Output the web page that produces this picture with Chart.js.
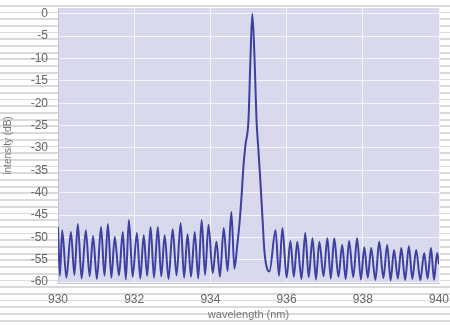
<!DOCTYPE html>
<html>
<head>
<meta charset="utf-8">
<script src="https://cdn.jsdelivr.net/npm/chart.js@4/dist/chart.umd.min.js"></script>
<style>
  html, body { margin: 0; padding: 0; }
  body {
    width: 450px; height: 325px; overflow: hidden;
    background: repeating-linear-gradient(to bottom, #ffffff 0px, #ffffff 4.9px, #dadada 4.9px, #dadada 6.7px);
  }
  canvas { display: block; }
</style>
</head>
<body>
<canvas id="c" width="450" height="325"></canvas>
<script>
// Spectrum: wavelength (nm) and intensity (dB) (peaks and troughs)
const wavelengths = [
  930.00, 930.05, 930.11, 930.22, 930.34, 930.43, 930.52, 930.62, 930.73, 930.83,
  930.92, 931.02, 931.13, 931.22, 931.31, 931.40, 931.49, 931.60, 931.70, 931.78,
  931.86, 931.96, 932.07, 932.16, 932.25, 932.34, 932.43, 932.52, 932.62, 932.71,
  932.80, 932.90, 933.01, 933.11, 933.22, 933.31, 933.40, 933.49, 933.59, 933.68,
  933.77, 933.86, 933.95, 934.06, 934.16, 934.25, 934.35, 934.45, 934.55, 934.63,
  934.71, 934.76, 934.82, 934.87, 934.92, 935.00, 935.05, 935.10, 935.16, 935.21,
  935.26, 935.31, 935.37, 935.42, 935.55, 935.71, 935.80, 935.89, 936.00, 936.10,
  936.19, 936.28, 936.39, 936.49, 936.58, 936.68, 936.77, 936.86, 936.97, 937.07,
  937.16, 937.25, 937.36, 937.46, 937.55, 937.64, 937.75, 937.85, 937.95, 938.04,
  938.13, 938.22, 938.33, 938.43, 938.54, 938.64, 938.73, 938.82, 938.92, 939.01,
  939.11, 939.21, 939.30, 939.40, 939.51, 939.61, 939.70, 939.79, 939.87, 939.95,
  940.00
];
const intensity = [
  -47.7, -58.6, -48.4, -59.0, -48.8, -58.4, -47.0, -59.2, -48.4, -58.7,
  -49.7, -59.3, -47.7, -58.6, -47.0, -59.0, -49.9, -58.5, -48.8, -59.4,
  -46.1, -58.8, -49.0, -59.2, -49.5, -58.6, -47.7, -59.0, -47.7, -58.7,
  -49.5, -59.3, -48.2, -58.5, -46.8, -59.0, -49.3, -58.8, -48.8, -59.2,
  -46.1, -58.4, -47.2, -58.0, -51.0, -58.8, -47.9, -57.5, -44.3, -57.0,
  -51.3, -47.2, -40.5, -33.8, -29.3, -23.7, -10.3, 0.0, -10.3, -23.7,
  -30.4, -37.2, -46.1, -53.3, -57.6, -48.4, -58.6, -47.9, -59.0, -50.8,
  -58.8, -51.0, -59.3, -49.0, -58.9, -50.2, -59.4, -51.0, -58.7, -50.2,
  -59.2, -50.2, -58.8, -51.7, -59.3, -50.8, -58.9, -50.2, -59.4, -52.2,
  -59.0, -52.4, -59.5, -51.0, -59.1, -51.7, -59.6, -52.8, -59.2, -52.4,
  -59.5, -52.0, -59.3, -52.8, -59.6, -53.5, -59.2, -52.4, -59.5, -53.5,
  -56.0
];
const xTicks = [930, 932, 934, 936, 938, 940];
const yTicks = [0, -5, -10, -15, -20, -25, -30, -35, -40, -45, -50, -55, -60];
const xTitle = 'wavelength (nm)';
const yTitle = 'intensity (dB)';

const points = wavelengths.map((w, i) => ({ x: w, y: intensity[i] }));

const plotBg = {
  id: 'plotBg',
  beforeDraw(chart) {
    const { ctx, chartArea: a } = chart;
    ctx.save();
    ctx.fillStyle = '#d9d9ee';
    ctx.fillRect(a.left, a.top, a.right - a.left, a.bottom - a.top);
    ctx.restore();
  }
};

new Chart(document.getElementById('c'), {
  type: 'line',
  data: {
    datasets: [{
      data: points,
      borderColor: '#3d40a0',
      borderWidth: 2,
      pointRadius: 0,
      cubicInterpolationMode: 'monotone',
      fill: false
    }]
  },
  options: {
    responsive: false,
    animation: false,
    layout: { padding: { top: 8, right: 0, left: 0, bottom: 0 } },
    plugins: { legend: { display: false }, tooltip: { enabled: false } },
    scales: {
      x: {
        type: 'linear',
        min: 930, max: 940,
        afterBuildTicks: s => { s.ticks = xTicks.map(v => ({ value: v })); },
        afterFit: s => { s.height = 42; s.paddingRight = 11; s.paddingLeft = 0; },
        grid: { color: '#f4f4fb', lineWidth: 1, drawTicks: false },
        border: { display: true, color: '#c4c4d8' },
        ticks: {
          padding: 9,
          color: '#666',
          font: { family: 'Liberation Sans', size: 12 },
          maxRotation: 0,
          callback: v => String(v)
        },
        title: {
          display: true, text: xTitle, color: '#777',
          font: { family: 'Liberation Sans', size: 11 },
          padding: { top: 2, bottom: 3 }
        }
      },
      y: {
        type: 'linear',
        min: -60.2, max: 1.3,
        afterBuildTicks: s => { s.ticks = yTicks.map(v => ({ value: v })); },
        afterFit: s => { s.width = 58; s.paddingTop = 0; s.paddingBottom = 0; },
        grid: { color: '#f4f4fb', lineWidth: 1, drawTicks: false },
        border: { display: true, color: '#c4c4d8' },
        ticks: {
          padding: 10,
          color: '#666',
          font: { family: 'Liberation Sans', size: 12 },
          callback: v => String(v)
        },
        title: {
          display: true, text: yTitle, color: '#777',
          font: { family: 'Liberation Sans', size: 10 },
          padding: { top: 2, bottom: 2 }
        }
      }
    }
  },
  plugins: [plotBg]
});
</script>
</body>
</html>
